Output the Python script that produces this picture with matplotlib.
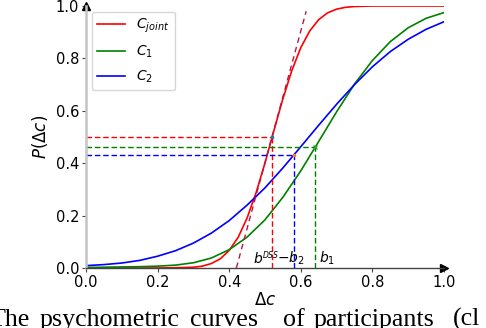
import matplotlib
matplotlib.use("Agg")
import matplotlib.pyplot as plt

# ---- data ----
x_red = [0.0, 0.1, 0.2, 0.25, 0.3, 0.325, 0.35, 0.375, 0.4, 0.425, 0.45, 0.475, 0.5,
         0.525, 0.55, 0.575, 0.6, 0.625, 0.65, 0.675, 0.7, 0.725, 0.75, 0.8, 0.9, 1.0]
p_joint = [0.0, 0.0, 0.0, 0.001, 0.003, 0.007, 0.017, 0.035, 0.067, 0.117, 0.191, 0.287, 0.401,
           0.525, 0.646, 0.754, 0.841, 0.905, 0.948, 0.974, 0.988, 0.995, 0.998, 1.0, 1.0, 1.0]

x_grid = [0.0, 0.05, 0.1, 0.15, 0.2, 0.25, 0.3, 0.35, 0.4, 0.45, 0.5,
          0.55, 0.6, 0.65, 0.7, 0.75, 0.8, 0.85, 0.9, 0.95, 1.0]
p_c1 = [0.002, 0.003, 0.004, 0.005, 0.007, 0.011, 0.02, 0.038, 0.07, 0.118, 0.184,
        0.27, 0.371, 0.483, 0.596, 0.702, 0.792, 0.864, 0.917, 0.953, 0.975]
p_c2 = [0.009, 0.013, 0.019, 0.029, 0.045, 0.066, 0.095, 0.133, 0.181, 0.24, 0.306,
        0.382, 0.463, 0.545, 0.625, 0.70, 0.768, 0.826, 0.873, 0.911, 0.94]

# thresholds (b) and their probabilities
b_joint, pb_joint = 0.52, 0.50
b_1, pb_1 = 0.64, 0.46
b_2, pb_2 = 0.58, 0.43

tangent_x = [0.42, 0.615]
tangent_y = [0.0, 0.98]

x_ticks = [0.0, 0.2, 0.4, 0.6, 0.8, 1.0]
y_ticks = [0.0, 0.2, 0.4, 0.6, 0.8, 1.0]

caption_words = ["The", "psychometric", "curves", "of", "participants", "(cl"]
caption_px = [30, 40, 190, 283, 314, 453]

# ---- figure ----
W, H = 486, 328
fig = plt.figure(figsize=(W / 100, H / 100), dpi=100)
ax = fig.add_axes([86 / W, 1 - 268 / H, (444 - 86) / W, (268 - 6) / H])

ax.plot(x_red, p_joint, color="red", lw=1.2, label="$C_{joint}$")
ax.plot(x_grid, p_c1, color="green", lw=1.2, label="$C_1$")
ax.plot(x_grid, p_c2, color="blue", lw=1.2, label="$C_2$")

ax.plot(tangent_x, tangent_y, color="#b2184b", lw=1.0, ls=(0, (4, 3)))

for b, pb, c in [(b_joint, pb_joint, "red"), (b_1, pb_1, "green"), (b_2, pb_2, "blue")]:
    ax.plot([0, b], [pb, pb], color=c, lw=1.0, ls=(0, (4, 2)))
    ax.plot([b, b], [0, pb], color=c, lw=1.0, ls=(0, (4, 2)))

ax.plot([b_joint], [pb_joint], "s", color="#1f77b4", ms=2)
ax.plot([b_2], [pb_2], "s", color="#ff7f0e", ms=2)
ax.plot([b_1], [pb_1], "x", color="#2ca02c", ms=3)

ax.text(0.466, 0.02, "$b$", fontsize=10, ha="left", va="baseline")
ax.text(0.492, 0.038, "$DSS$", fontsize=5.5, ha="left", va="baseline")
ax.text(0.533, 0.02, "$-b_2$", fontsize=10, ha="left", va="baseline")
ax.text(0.652, 0.02, "$b_1$", fontsize=10, ha="left", va="baseline")

ax.set_xlim(0, 1)
ax.set_ylim(0, 1)
ax.set_xticks(x_ticks)
ax.set_yticks(y_ticks)
ax.tick_params(labelsize=10.5, length=3, color="#444444", pad=2)
ax.spines["top"].set_visible(False)
ax.spines["right"].set_visible(False)
ax.spines["left"].set_color("#c4c4c4")
ax.spines["left"].set_linewidth(1.8)
ax.spines["bottom"].set_color("#444444")
ax.spines["bottom"].set_linewidth(1.0)
ax.plot(1, 0, ">k", ms=6, transform=ax.get_yaxis_transform(), clip_on=False)
ax.plot(0, 1, "^k", ms=6, transform=ax.get_xaxis_transform(), clip_on=False)

ax.set_xlabel(r"$\Delta c$", fontsize=12, labelpad=1)
ax.set_ylabel(r"$P(\Delta c)$", fontsize=12)

ax.legend(loc="upper left", fontsize=10, frameon=True, handlelength=2.0,
          borderaxespad=0.4, labelspacing=0.6)

for w, px in zip(caption_words, caption_px):
    ha = "right" if w == "The" else "left"
    fig.text(px / W, 2 / H, w, fontsize=18.7, family="Liberation Serif",
             ha=ha, va="baseline")

fig.savefig("out.png", dpi=100)
